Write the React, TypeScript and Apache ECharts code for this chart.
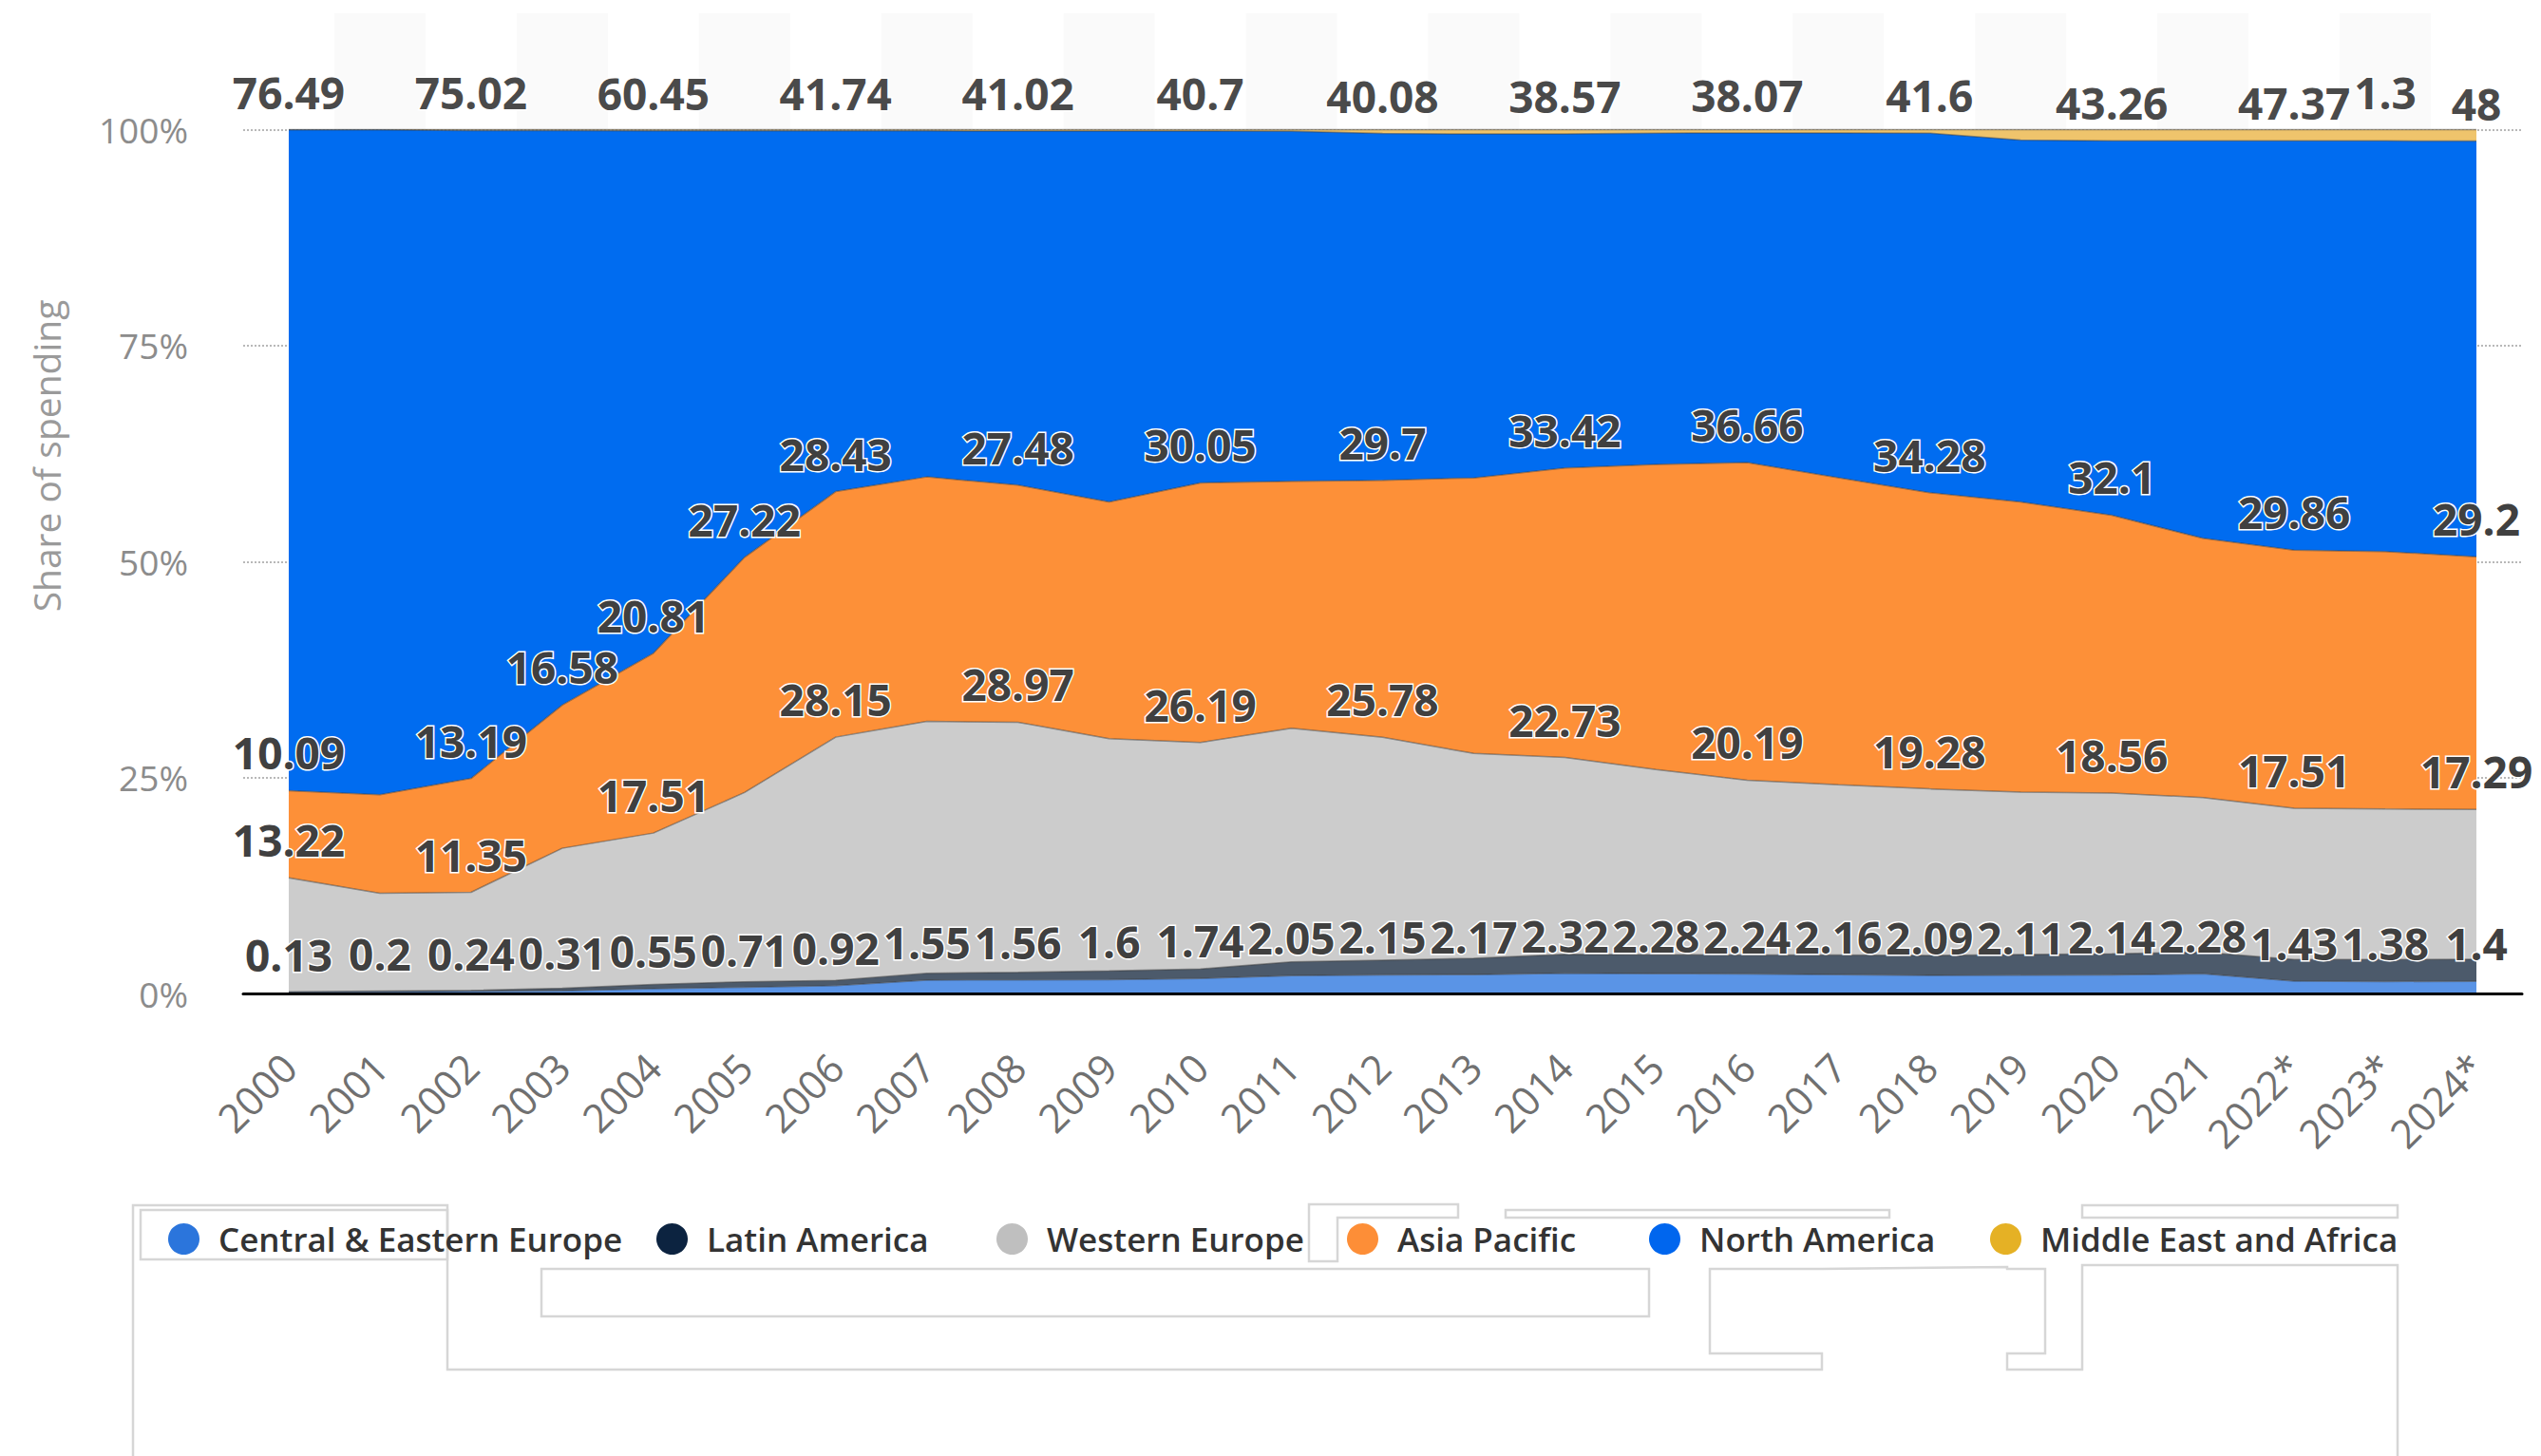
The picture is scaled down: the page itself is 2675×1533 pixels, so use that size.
import React, { useEffect, useRef } from 'react';
import * as echarts from 'echarts';

const years = ['2000', '2001', '2002', '2003', '2004', '2005', '2006', '2007', '2008', '2009', '2010', '2011', '2012', '2013', '2014', '2015', '2016', '2017', '2018', '2019', '2020', '2021', '2022*', '2023*', '2024*'];

const centralEasternEurope = [0.13, 0.2, 0.24, 0.31, 0.55, 0.71, 0.92, 1.55, 1.56, 1.6, 1.74, 2.05, 2.15, 2.17, 2.32, 2.28, 2.24, 2.16, 2.09, 2.11, 2.14, 2.28, 1.43, 1.38, 1.4];
const latinAmerica = [0.05, 0.08, 0.12, 0.3, 0.5, 0.65, 0.6, 0.8, 0.9, 1.0, 1.1, 1.6, 1.7, 1.9, 2.2, 2.2, 2.2, 2.3, 2.3, 2.4, 2.45, 2.5, 2.5, 2.55, 2.55];
const westernEurope = [13.22, 11.3, 11.35, 16.2, 17.51, 21.9, 28.15, 29.15, 28.97, 26.9, 26.19, 27.05, 25.78, 23.7, 22.73, 21.4, 20.19, 19.7, 19.28, 18.8, 18.56, 17.9, 17.51, 17.4, 17.29];
const asiaPacific = [10.09, 11.4, 13.19, 16.58, 20.81, 27.22, 28.43, 28.3, 27.48, 27.4, 30.05, 28.6, 29.7, 31.9, 33.42, 35.3, 36.66, 35.5, 34.28, 33.6, 32.1, 30.0, 29.86, 29.8, 29.2];
const northAmerica = [76.49, 76.9, 75.02, 66.5, 60.45, 49.35, 41.74, 40.05, 41.02, 42.95, 40.7, 40.5, 40.08, 39.8, 38.57, 38.3, 38.07, 39.9, 41.6, 41.9, 43.26, 46.0, 47.37, 47.5, 48];
const middleEastAfrica = [0.03, 0.04, 0.1, 0.12, 0.14, 0.15, 0.15, 0.15, 0.16, 0.16, 0.17, 0.2, 0.45, 0.5, 0.5, 0.4, 0.38, 0.38, 0.4, 1.2, 1.28, 1.3, 1.3, 1.3, 1.32];

const seriesNames = ['Central & Eastern Europe', 'Latin America', 'Western Europe', 'Asia Pacific', 'North America', 'Middle East and Africa'];
const seriesValues = [centralEasternEurope, latinAmerica, westernEurope, asiaPacific, northAmerica, middleEastAfrica];
const areaColors = ['#5a94e6', '#4c5a6b', '#cccccc', '#fd9038', '#006cf0', '#efc46c'];
const legendColors = ['#2b75dc', '#0c2340', '#bfbfbf', '#fd8e37', '#0066ee', '#e5b125'];
const legendLefts = [177, 691, 1049, 1418, 1736, 2095];

const evenYears = years.filter((_, i) => i % 2 === 0);
const labelYears = [
  years,
  [],
  evenYears,
  [...evenYears, '2003', '2005'],
  evenYears,
  ['2023*'],
];

const yTicks = ['0%', '25%', '50%', '75%', '100%'];

const artifactColor = '#d6d6d6';

export default function App() {
  const ref = useRef<HTMLDivElement>(null);

  useEffect(() => {
    if (!ref.current) return;
    const chart = echarts.init(ref.current, undefined, { renderer: 'svg' });

    const totals = years.map((_, i) => seriesValues.reduce((s, arr) => s + arr[i], 0));

    const series = seriesValues.map((vals, k) => ({
      name: seriesNames[k],
      type: 'line',
      stack: 'total',
      xAxisIndex: 0,
      yAxisIndex: 0,
      z: 8 - k,
      clip: false,
      symbol: 'circle',
      symbolSize: 0,
      showSymbol: true,
      emphasis: { disabled: true },
      data: vals.map((v, i) => ({
        value: (v / totals[i]) * 100,
        label: { show: labelYears[k].includes(years[i]) },
      })),
      itemStyle: { color: legendColors[k] },
      lineStyle: { width: 1.5, color: 'rgba(60,60,60,0.5)' },
      areaStyle: { color: areaColors[k], opacity: 1 },
      label: {
        show: false,
        position: 'top',
        distance: 17,
        fontSize: 46,
        fontWeight: 'bold',
        fontFamily: 'Open Sans',
        color: k === 4 || k === 5 ? '#4a4a4a' : '#404040',
        textBorderColor: '#ffffff',
        textBorderWidth: 3,
        formatter: (p: any) => String(vals[p.dataIndex]),
      },
    }));

    const artifacts = [
      {
        type: 'polyline',
        shape: {
          points: [[140, 1533], [140, 1269], [471, 1269], [471, 1442], [1918, 1442], [1918, 1425], [1800, 1425], [1800, 1336], [1918, 1336], [2113, 1334], [2113, 1336], [2153, 1336], [2153, 1425], [2113, 1425], [2113, 1442], [2192, 1442], [2192, 1332], [2524, 1332], [2524, 1533]],
        },
        style: { stroke: artifactColor, lineWidth: 2.5, fill: null },
        silent: true,
      },
      { type: 'rect', shape: { x: 148, y: 1274, width: 323, height: 52 }, style: { stroke: artifactColor, lineWidth: 2.5, fill: 'rgba(0,0,0,0)' }, silent: true },
      { type: 'rect', shape: { x: 570, y: 1336, width: 1166, height: 50 }, style: { stroke: artifactColor, lineWidth: 2.5, fill: 'rgba(0,0,0,0)' }, silent: true },
      { type: 'rect', shape: { x: 1585, y: 1274, width: 404, height: 8 }, style: { stroke: artifactColor, lineWidth: 2.5, fill: 'rgba(0,0,0,0)' }, silent: true },
      { type: 'rect', shape: { x: 2192, y: 1269, width: 332, height: 13 }, style: { stroke: artifactColor, lineWidth: 2.5, fill: 'rgba(0,0,0,0)' }, silent: true },
      {
        type: 'polygon',
        shape: { points: [[1378, 1268], [1535, 1268], [1535, 1282], [1408, 1282], [1408, 1328], [1378, 1328]] },
        style: { stroke: artifactColor, lineWidth: 2.5, fill: 'rgba(0,0,0,0)' },
        silent: true,
      },
    ];

    const option: any = {
      animation: false,
      backgroundColor: '#ffffff',
      textStyle: { fontFamily: 'Open Sans' },
      grid: [
        { left: 256, right: 20, top: 136.5, bottom: 487, containLabel: false },
        { left: 256, right: 20, top: 14, bottom: 487, containLabel: false },
      ],
      xAxis: [
        {
          type: 'category',
          gridIndex: 0,
          data: years,
          boundaryGap: true,
          z: 10,
          axisLine: { show: true, lineStyle: { color: '#000000', width: 3 } },
          axisTick: { show: false },
          axisLabel: {
            interval: 0,
            rotate: 45,
            margin: 70,
            fontSize: 42,
            color: '#707070',
            fontFamily: 'Open Sans',
          },
          splitLine: { show: false },
          splitArea: { show: false },
        },
        {
          type: 'category',
          gridIndex: 1,
          data: years,
          boundaryGap: true,
          z: -1,
          axisLine: { show: false },
          axisTick: { show: false },
          axisLabel: { show: false },
          splitLine: { show: false },
          splitArea: { show: true, interval: 0, areaStyle: { color: ['rgba(255,255,255,0)', '#fafafa'] } },
        },
      ],
      yAxis: [
        {
          type: 'value',
          gridIndex: 0,
          min: 0,
          max: 100,
          interval: 25,
          z: 1,
          axisLine: { show: false },
          axisTick: { show: false },
          axisLabel: {
            margin: 58,
            fontSize: 37,
            color: '#8c8c8c',
            fontFamily: 'Open Sans',
            formatter: (v: number) => yTicks[Math.round(v / 25)] ?? '',
          },
          splitLine: { show: true, lineStyle: { type: 'dotted', color: '#b8b8b8', width: 2 } },
        },
        { type: 'value', gridIndex: 1, show: false, min: 0, max: 100 },
      ],
      legend: seriesNames.map((n, k) => ({
        data: [{ name: n, itemStyle: { color: legendColors[k], borderWidth: 0 } }],
        left: legendLefts[k],
        top: 1287,
        padding: 0,
        itemWidth: 33,
        itemHeight: 33,
        icon: 'circle',
        selectedMode: false,
        itemStyle: { borderWidth: 0 },
        textStyle: { fontSize: 35, fontWeight: 600, color: '#333333', fontFamily: 'Open Sans', padding: [0, 0, 0, 15] },
      })),
      graphic: [
        {
          type: 'text',
          x: 48,
          y: 480,
          rotation: Math.PI / 2,
          silent: true,
          style: {
            text: 'Share of spending',
            fontSize: 39,
            fontFamily: 'Open Sans',
            fill: '#9a9a9a',
            align: 'center',
            verticalAlign: 'middle',
            textAlign: 'center',
            textVerticalAlign: 'middle',
          },
        },
        ...artifacts,
      ],
      series,
    };

    chart.setOption(option);
    return () => chart.dispose();
  }, []);

  return (
    <div
      ref={ref}
      style={{ position: 'fixed', left: 0, top: 0, width: '2675px', height: '1533px' }}
    />
  );
}
